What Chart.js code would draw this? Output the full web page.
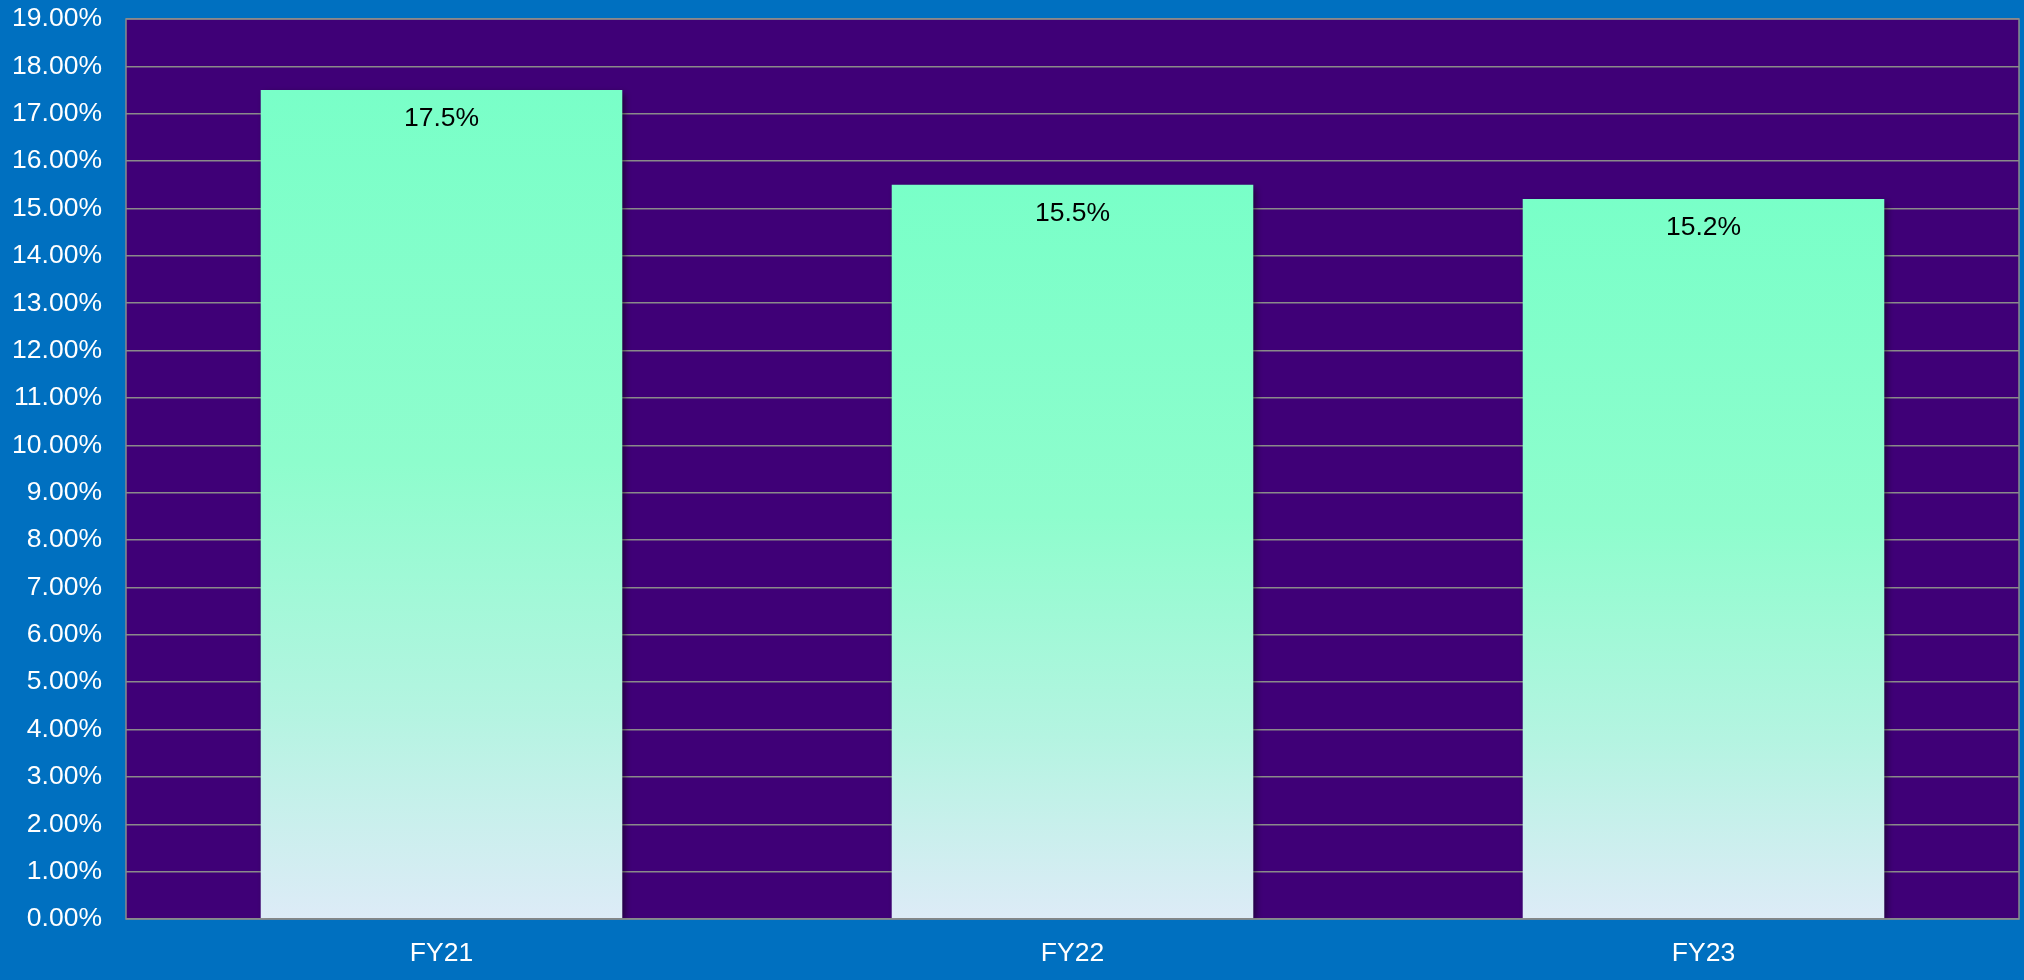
<!DOCTYPE html>
<html>
<head>
<meta charset="utf-8">
<title>FY ratio</title>
<script src="https://cdn.jsdelivr.net/npm/chart.js@4.4.1/dist/chart.umd.min.js"></script>
<style>
    html, body { margin: 0; padding: 0; background: #0070C0; }
    #wrap { width: 2024px; height: 980px; }
</style>
</head>
<body>
<div id="wrap"><canvas id="ratio-chart" width="2024" height="980"></canvas></div>
<script>
const fiscalYears = ['FY21', 'FY22', 'FY23'];
const ratioValues = [17.5, 15.5, 15.2];
const axisMax = 19;

const FONT = '"Liberation Sans", Arial, Helvetica, sans-serif';
const FONT_SIZE = 26.5;

function formatTick(value) {
    return Number(value).toFixed(2) + '%';
}

function formatLabel(value) {
    return Number(value).toFixed(1) + '%';
}

// each bar fades from mint at its top to pale blue at the base
function barGradient(ctx) {
    const chart = ctx.chart;
    if (!chart.chartArea || ctx.type !== 'data') return '#7AFFC8';
    const yScale = chart.scales.y;
    const top = yScale.getPixelForValue(ctx.raw);
    const base = yScale.getPixelForValue(0);
    const g = chart.ctx.createLinearGradient(0, top, 0, base);
    g.addColorStop(0, '#79FFC8');
    g.addColorStop(0.45, '#8EFDCD');
    g.addColorStop(0.75, '#B4F4E1');
    g.addColorStop(1, '#DDEBF7');
    return g;
}

const plotFrame = {
    id: 'plotFrame',
    beforeDraw(chart) {
        const { ctx, chartArea: a } = chart;
        ctx.save();
        ctx.fillStyle = '#0070C0';
        ctx.fillRect(0, 0, chart.width, chart.height);
        ctx.fillStyle = '#3F0077';
        ctx.fillRect(a.left, a.top, a.right - a.left, a.bottom - a.top);
        ctx.restore();
    },
    afterDraw(chart) {
        const { ctx, chartArea: a } = chart;
        ctx.save();
        ctx.strokeStyle = '#8A8A8A';
        ctx.lineWidth = 1.5;
        ctx.strokeRect(a.left, a.top, a.right - a.left, a.bottom - a.top);
        ctx.restore();
    },
};

const barShadow = {
    id: 'barShadow',
    beforeDatasetDraw(chart) {
        const ctx = chart.ctx;
        ctx.save();
        ctx.shadowColor = 'rgba(0, 0, 0, 0.55)';
        ctx.shadowBlur = 7;
        ctx.shadowOffsetX = 3;
        ctx.shadowOffsetY = 3;
    },
    afterDatasetDraw(chart) {
        chart.ctx.restore();
    },
};

const valueLabels = {
    id: 'valueLabels',
    afterDatasetsDraw(chart) {
        const { ctx } = chart;
        const meta = chart.getDatasetMeta(0);
        ctx.save();
        ctx.fillStyle = '#000000';
        ctx.font = FONT_SIZE + 'px ' + FONT;
        ctx.textAlign = 'center';
        ctx.textBaseline = 'middle';
        meta.data.forEach((bar, i) => {
            ctx.fillText(formatLabel(ratioValues[i]), bar.x, bar.y + 29);
        });
        ctx.restore();
    },
};

new Chart(document.getElementById('ratio-chart'), {
    type: 'bar',
    data: {
        labels: fiscalYears,
        datasets: [
            {
                data: ratioValues,
                backgroundColor: barGradient,
                borderWidth: 0,
                categoryPercentage: 1,
                barPercentage: 0.573,
            },
        ],
    },
    options: {
        responsive: false,
        animation: false,
        devicePixelRatio: 1,
        layout: { padding: { top: 19, right: 5, left: 0, bottom: 0 } },
        plugins: {
            legend: { display: false },
            tooltip: { enabled: false },
        },
        scales: {
            x: {
                grid: { display: false },
                border: { display: false },
                ticks: {
                    color: '#FFFFFF',
                    font: { family: FONT, size: FONT_SIZE },
                    padding: 11,
                    maxRotation: 0,
                },
                afterFit: (scale) => { scale.height = 61; },
            },
            y: {
                min: 0,
                max: axisMax,
                grid: { color: '#8A8A8A', lineWidth: 1.5, drawTicks: false },
                border: { display: false },
                ticks: {
                    stepSize: 1,
                    color: '#FFFFFF',
                    font: { family: FONT, size: FONT_SIZE },
                    padding: 24,
                    callback: (value) => formatTick(value),
                },
                afterFit: (scale) => {
                    scale.width = 126;
                    scale.paddingTop = 0;
                    scale.paddingBottom = 0;
                },
            },
        },
    },
    plugins: [plotFrame, barShadow, valueLabels],
});
</script>
</body>
</html>
